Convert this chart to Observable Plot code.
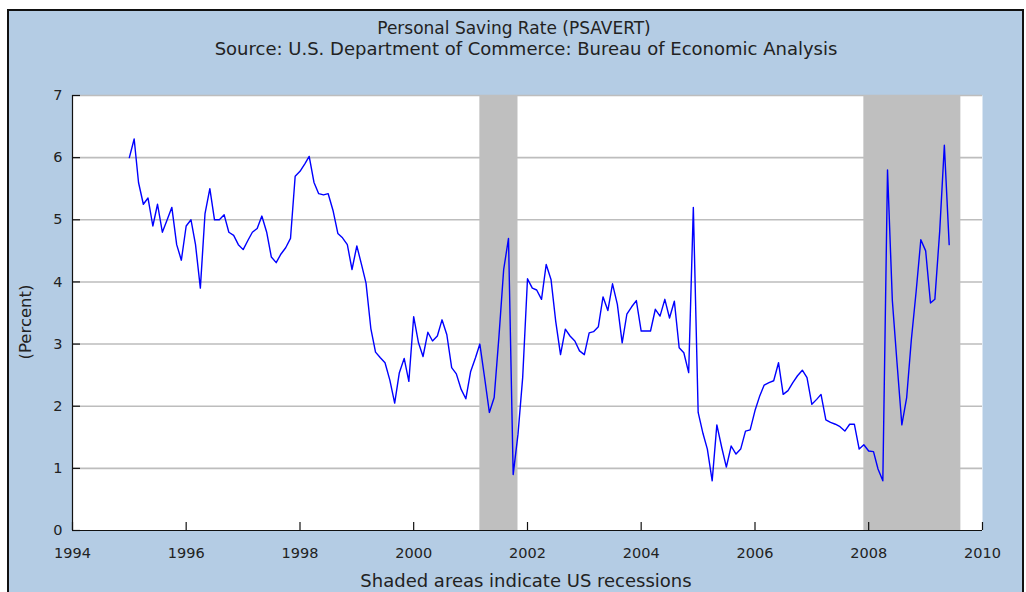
<!DOCTYPE html>
<html>
<head>
<meta charset="utf-8">
<script src="https://cdn.jsdelivr.net/npm/d3@7"></script>
<script src="https://cdn.jsdelivr.net/npm/@observablehq/plot@0.6"></script>
<style>
  body { margin: 0; background: #ffffff; }
  #wrap { position: relative; width: 1026px; height: 592px; overflow: hidden; font-family: "DejaVu Sans", sans-serif; color: #222; }
  #panel { position: absolute; left: 7px; top: 9px; width: 1013px; height: 620px; background: #b4cce4; border: 2px solid #111; }
  #chart { position: absolute; left: 0; top: 0; }
  .t { position: absolute; left: 0; text-align: center; line-height: 1; white-space: nowrap; }
  #ylab { position: absolute; left: 25px; top: 322px; transform: translate(-50%, -50%) rotate(-90deg); font-size: 16.5px; white-space: nowrap; }
</style>
</head>
<body>
<div id="wrap">
  <div id="panel"></div>
  <div id="chart"></div>
  <div class="t" style="top:20px;width:1028px;font-size:17px">Personal Saving Rate (PSAVERT)</div>
  <div class="t" style="top:40px;width:1052px;font-size:18px">Source: U.S. Department of Commerce: Bureau of Economic Analysis</div>
  <div class="t" style="top:572px;width:1052px;font-size:18px">Shaded areas indicate US recessions</div>
  <div id="ylab">(Percent)</div>
</div>
<script>
// Monthly personal saving rate, Jan 1995 - Jun 2009 (percent)
const firstMonth = "1995-01";
const savingRate = [
  6.0, 6.3, 5.6, 5.25, 5.35, 4.9, 5.25, 4.8, 5.0, 5.2, 4.6, 4.35,
  4.9, 5.0, 4.6, 3.9, 5.1, 5.5, 5.0, 5.0, 5.08, 4.8, 4.75, 4.6,
  4.52, 4.67, 4.8, 4.86, 5.06, 4.8, 4.4, 4.31, 4.45, 4.55, 4.7, 5.7,
  5.78, 5.9, 6.02, 5.6, 5.42, 5.4, 5.42, 5.15, 4.78, 4.71, 4.6, 4.2,
  4.58, 4.27, 3.98, 3.25, 2.87, 2.78, 2.7, 2.42, 2.05, 2.54, 2.77, 2.4,
  3.44, 3.02, 2.8, 3.19, 3.05, 3.13, 3.39, 3.15, 2.62, 2.52, 2.27, 2.12,
  2.56, 2.78, 3.0, 2.45, 1.9, 2.14, 3.1, 4.2, 4.7, 0.9, 1.55, 2.46,
  4.05, 3.9, 3.87, 3.72, 4.28, 4.04, 3.37, 2.83, 3.24, 3.13, 3.05, 2.89,
  2.83, 3.18, 3.2, 3.28, 3.76, 3.54, 3.97, 3.64, 3.02, 3.48, 3.6, 3.7,
  3.21, 3.21, 3.21, 3.56, 3.45, 3.72, 3.42, 3.69, 2.94, 2.86, 2.54, 5.2,
  1.9, 1.56, 1.31, 0.8, 1.7, 1.34, 1.02, 1.36, 1.23, 1.31, 1.6, 1.62,
  1.93, 2.17, 2.34, 2.38, 2.41, 2.7, 2.19, 2.25, 2.38, 2.49, 2.58, 2.46,
  2.03, 2.11, 2.19, 1.78, 1.74, 1.71, 1.67, 1.6, 1.71, 1.71, 1.31, 1.38,
  1.28, 1.27, 0.99, 0.8, 5.8, 3.7, 2.7, 1.7, 2.14, 3.07, 3.85, 4.68,
  4.5, 3.66, 3.72, 4.81, 6.2, 4.6
];
const recessionStart = ["2001-03-01", "2007-12-01"];
const recessionEnd = ["2001-11-01", "2009-08-15"];
const xTickYears = [1994, 1996, 1998, 2000, 2002, 2004, 2006, 2008, 2010];
const yTicks = [0, 1, 2, 3, 4, 5, 6, 7];
const gridValues = [1, 2, 3, 4, 5, 6, 7];

const start = d3.utcParse("%Y-%m")(firstMonth);
const series = savingRate.map((v, i) => ({date: d3.utcMonth.offset(start, i), value: v}));
const recessions = recessionStart.map((s, i) => ({start: new Date(s), end: new Date(recessionEnd[i])}));
const xTicks = xTickYears.map(y => new Date(Date.UTC(y, 0, 1)));
const xDomain = [xTicks[0], xTicks[xTicks.length - 1]];

const W = 1026, H = 592, mL = 72, mR = 44, mT = 95, mB = 62;
const frameW = W - mL - mR, frameH = H - mT - mB;

const chart = Plot.plot({
  width: W,
  height: H,
  marginLeft: mL,
  marginRight: mR,
  marginTop: mT,
  marginBottom: mB,
  style: {background: "transparent", fontFamily: "DejaVu Sans, sans-serif", fontSize: "14.5px", color: "#222"},
  x: {type: "utc", domain: xDomain},
  y: {domain: [0, 7]},
  marks: [
    Plot.frame({fill: "white", stroke: null}),
    Plot.ruleY(gridValues, {stroke: "#bdbdbd", strokeWidth: 1.6}),
    Plot.rectX(recessions, {x1: "start", x2: "end", y1: 0, y2: 7, fill: "#bfbfbf"}),
    Plot.line(series, {x: "date", y: "value", stroke: "#0000ff", strokeWidth: 1.4}),
    Plot.ruleY([0], {stroke: "#111", strokeWidth: 1.2}),
    Plot.ruleX([xDomain[0]], {stroke: "#111", strokeWidth: 1.2}),
    Plot.tickX(xTicks, {x: d => d, insetTop: frameH - 8, stroke: "#111", strokeWidth: 1.2}),
    Plot.tickY(yTicks, {y: d => d, insetRight: frameW - 8, stroke: "#111", strokeWidth: 1.2}),
    Plot.axisX(xTicks, {tickSize: 0, tickPadding: 17, tickFormat: d3.utcFormat("%Y"), label: null, fill: "#222"}),
    Plot.axisY(yTicks, {tickSize: 0, tickPadding: 10, tickFormat: d3.format("d"), label: null, fill: "#222"})
  ]
});
document.getElementById("chart").appendChild(chart);
</script>
</body>
</html>
